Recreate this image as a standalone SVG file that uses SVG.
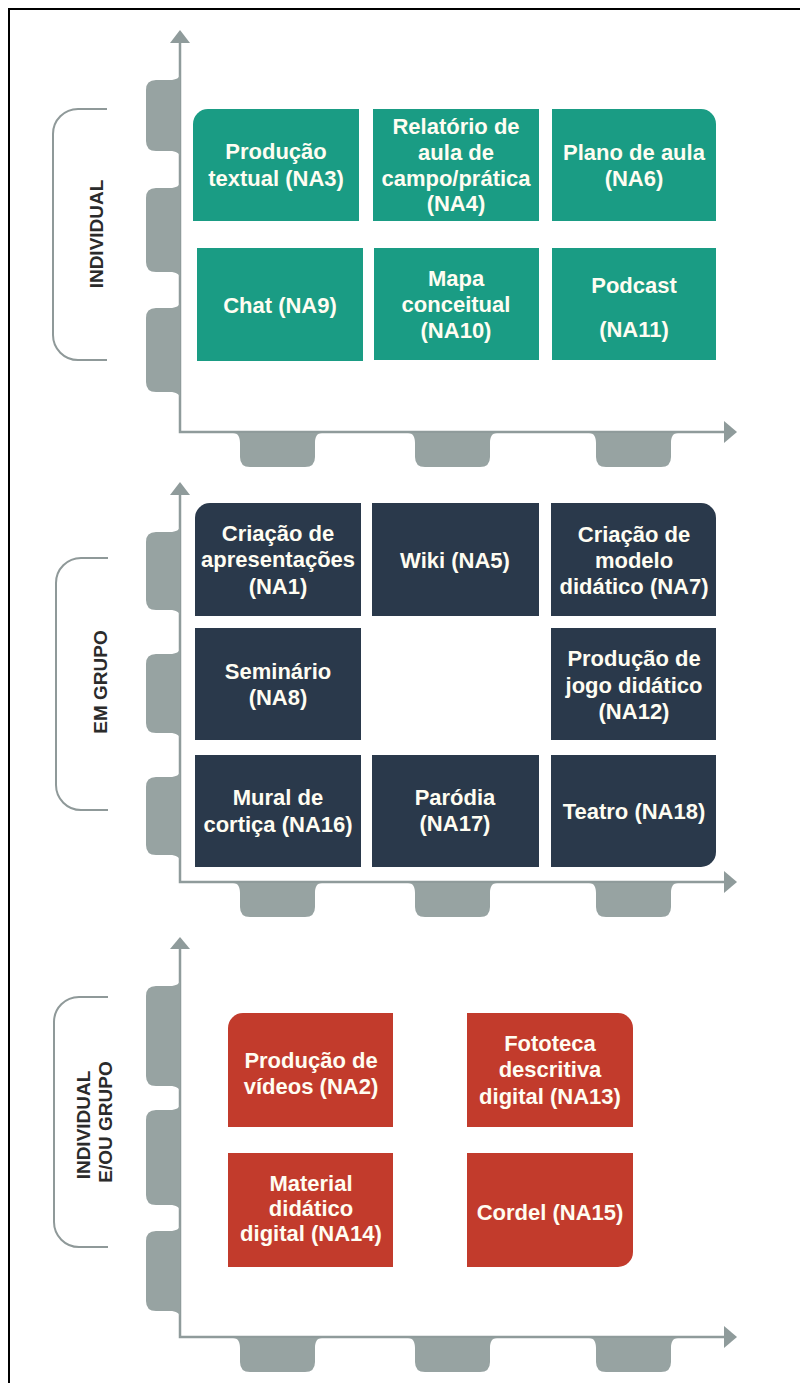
<svg xmlns="http://www.w3.org/2000/svg" xmlns:xlink="http://www.w3.org/1999/xlink" width="800" height="1383" viewBox="0 0 800 1383">
<style>
.frame{fill:none;stroke:#000;stroke-width:2}
.axis{fill:none;stroke:#8f9b9b;stroke-width:2.5}
.head{fill:#8f9b9b}
.tab{fill:#97a3a2}
.brace{fill:none;stroke:#8f9999;stroke-width:2}
.lab{font-family:"Liberation Sans",Arial,sans-serif;font-weight:bold;font-size:19px;fill:#2b2b2b;text-anchor:middle}
.t{font-family:"Liberation Sans",Arial,sans-serif;font-weight:bold;font-size:22px;fill:#fffdf2;text-anchor:middle}
.teal{fill:#1a9c84}
.navy{fill:#2a394b}
.red{fill:#c23b2c}
</style>
<defs>
<path id="btab" d="M0,0 C5,0 7,4 7,10 L7,24 Q7,34 17,34 L72,34 Q82,34 82,24 L82,10 C82,4 84,0 89,0 Z"/>
</defs>
<rect width="800" height="1383" fill="#fff"/>
<path class="frame" d="M9,1383 L9,9 L800,9"/>

<g id="connectors">
  <path class="axis" d="M180,42 L180,432 L726,432"/>
  <polygon class="head" points="180,30 190,43 170,43"/>
  <polygon class="head" points="737,432 724,421 724,443"/>
  <path class="axis" d="M180,494 L180,882 L726,882"/>
  <polygon class="head" points="180,482 190,495 170,495"/>
  <polygon class="head" points="737,882 724,871 724,893"/>
  <path class="axis" d="M180,948 L180,1337 L726,1337"/>
  <polygon class="head" points="180,937 190,949 170,949"/>
  <polygon class="head" points="737,1337 724,1326 724,1348"/>
</g>

<g id="tabs">
  <path class="tab" d="M180,73 C180,78 176,80 170,80 L156,80 Q146,80 146,90 L146,141 Q146,151 156,151 L170,151 C176,151 180,153 180,158 Z"/>
  <path class="tab" d="M180,181 C180,186 176,188 170,188 L156,188 Q146,188 146,198 L146,262 Q146,272 156,272 L170,272 C176,272 180,274 180,279 Z"/>
  <path class="tab" d="M180,301 C180,306 176,308 170,308 L156,308 Q146,308 146,318 L146,382 Q146,392 156,392 L170,392 C176,392 180,394 180,399 Z"/>
  <use href="#btab" xlink:href="#btab" class="tab" x="233" y="433"/>
  <use href="#btab" xlink:href="#btab" class="tab" x="408" y="433"/>
  <use href="#btab" xlink:href="#btab" class="tab" x="589" y="433"/>

  <path class="tab" d="M180,525 C180,530 176,532 170,532 L156,532 Q146,532 146,542 L146,600 Q146,610 156,610 L170,610 C176,610 180,612 180,617 Z"/>
  <path class="tab" d="M180,647 C180,652 176,654 170,654 L156,654 Q146,654 146,664 L146,723 Q146,733 156,733 L170,733 C176,733 180,735 180,740 Z"/>
  <path class="tab" d="M180,770 C180,775 176,777 170,777 L156,777 Q146,777 146,787 L146,845 Q146,855 156,855 L170,855 C176,855 180,857 180,862 Z"/>
  <use href="#btab" xlink:href="#btab" class="tab" x="233" y="883"/>
  <use href="#btab" xlink:href="#btab" class="tab" x="408" y="883"/>
  <use href="#btab" xlink:href="#btab" class="tab" x="589" y="883"/>

  <path class="tab" d="M180,979 C180,984 176,986 170,986 L156,986 Q146,986 146,996 L146,1076 Q146,1086 156,1086 L170,1086 C176,1086 180,1088 180,1093 Z"/>
  <path class="tab" d="M180,1103 C180,1108 176,1110 170,1110 L156,1110 Q146,1110 146,1120 L146,1195 Q146,1205 156,1205 L170,1205 C176,1205 180,1207 180,1212 Z"/>
  <path class="tab" d="M180,1224 C180,1229 176,1231 170,1231 L156,1231 Q146,1231 146,1241 L146,1301 Q146,1311 156,1311 L170,1311 C176,1311 180,1313 180,1318 Z"/>
  <use href="#btab" xlink:href="#btab" class="tab" x="233" y="1338"/>
  <use href="#btab" xlink:href="#btab" class="tab" x="408" y="1338"/>
  <use href="#btab" xlink:href="#btab" class="tab" x="589" y="1338"/>
</g>

<g id="label-individual">
  <path class="brace" d="M107,109 L78,109 A25,25 0 0 0 53,134 L53,335 A25,25 0 0 0 78,360 L107,360"/>
  <text class="lab" transform="translate(103,234) rotate(-90)">INDIVIDUAL</text>
</g>
<g id="label-emgrupo">
  <path class="brace" d="M108,558 L81,558 A25,25 0 0 0 56,583 L56,785 A25,25 0 0 0 81,810 L108,810"/>
  <text class="lab" transform="translate(107,682) rotate(-90)">EM GRUPO</text>
</g>
<g id="label-individual-grupo">
  <path class="brace" d="M108,997 L79,997 A25,25 0 0 0 54,1022 L54,1222 A25,25 0 0 0 79,1247 L108,1247"/>
  <text class="lab" transform="translate(90,1125) rotate(-90)">INDIVIDUAL</text>
  <text class="lab" transform="translate(112,1122) rotate(-90)">E/OU GRUPO</text>
</g>

<g id="NA3">
  <path class="teal" d="M208,109 L359,109 L359,221 L193,221 L193,124 A15,15 0 0 1 208,109 Z"/>
  <text class="t" x="276" y="159">Produção</text>
  <text class="t" x="276" y="186">textual (NA3)</text>
</g>
<g id="NA4">
  <rect class="teal" x="373" y="109" width="166" height="112"/>
  <text class="t" x="456" y="134">Relatório de</text>
  <text class="t" x="456" y="160">aula de</text>
  <text class="t" x="456" y="186">campo/prática</text>
  <text class="t" x="456" y="211">(NA4)</text>
</g>
<g id="NA6">
  <path class="teal" d="M552,109 L701,109 A15,15 0 0 1 716,124 L716,221 L552,221 Z"/>
  <text class="t" x="634" y="160">Plano de aula</text>
  <text class="t" x="634" y="186">(NA6)</text>
</g>
<g id="NA9">
  <rect class="teal" x="197" y="248" width="166" height="113"/>
  <text class="t" x="280" y="313">Chat (NA9)</text>
</g>
<g id="NA10">
  <rect class="teal" x="374" y="248" width="165" height="112"/>
  <text class="t" x="456" y="286">Mapa</text>
  <text class="t" x="456" y="312">conceitual</text>
  <text class="t" x="456" y="338">(NA10)</text>
</g>
<g id="NA11">
  <rect class="teal" x="552" y="248" width="164" height="112"/>
  <text class="t" x="634" y="293">Podcast</text>
  <text class="t" x="634" y="337">(NA11)</text>
</g>

<g id="NA1">
  <path class="navy" d="M210,503 L361,503 L361,616 L195,616 L195,518 A15,15 0 0 1 210,503 Z"/>
  <text class="t" x="278" y="541">Criação de</text>
  <text class="t" x="278" y="567">apresentações</text>
  <text class="t" x="278" y="594">(NA1)</text>
</g>
<g id="NA5">
  <rect class="navy" x="372" y="503" width="167" height="113"/>
  <text class="t" x="455" y="568">Wiki (NA5)</text>
</g>
<g id="NA7">
  <path class="navy" d="M551,503 L701,503 A15,15 0 0 1 716,518 L716,616 L551,616 Z"/>
  <text class="t" x="634" y="542">Criação de</text>
  <text class="t" x="634" y="568">modelo</text>
  <text class="t" x="634" y="594">didático (NA7)</text>
</g>
<g id="NA8">
  <rect class="navy" x="195" y="628" width="166" height="112"/>
  <text class="t" x="278" y="679">Seminário</text>
  <text class="t" x="278" y="705">(NA8)</text>
</g>
<g id="NA12">
  <rect class="navy" x="551" y="628" width="165" height="112"/>
  <text class="t" x="634" y="666">Produção de</text>
  <text class="t" x="634" y="693">jogo didático</text>
  <text class="t" x="634" y="719">(NA12)</text>
</g>
<g id="NA16">
  <rect class="navy" x="195" y="755" width="166" height="112"/>
  <text class="t" x="278" y="805">Mural de</text>
  <text class="t" x="278" y="832">cortiça (NA16)</text>
</g>
<g id="NA17">
  <rect class="navy" x="372" y="755" width="167" height="112"/>
  <text class="t" x="455" y="805">Paródia</text>
  <text class="t" x="455" y="831">(NA17)</text>
</g>
<g id="NA18">
  <path class="navy" d="M551,755 L716,755 L716,852 A15,15 0 0 1 701,867 L551,867 Z"/>
  <text class="t" x="634" y="819">Teatro (NA18)</text>
</g>

<g id="NA2">
  <path class="red" d="M243,1013 L393,1013 L393,1127 L228,1127 L228,1028 A15,15 0 0 1 243,1013 Z"/>
  <text class="t" x="311" y="1068">Produção de</text>
  <text class="t" x="311" y="1094">vídeos (NA2)</text>
</g>
<g id="NA13">
  <path class="red" d="M467,1013 L618,1013 A15,15 0 0 1 633,1028 L633,1127 L467,1127 Z"/>
  <text class="t" x="550" y="1051">Fototeca</text>
  <text class="t" x="550" y="1077">descritiva</text>
  <text class="t" x="550" y="1104">digital (NA13)</text>
</g>
<g id="NA14">
  <rect class="red" x="228" y="1153" width="165" height="114"/>
  <text class="t" x="311" y="1191">Material</text>
  <text class="t" x="311" y="1216">didático</text>
  <text class="t" x="311" y="1241">digital (NA14)</text>
</g>
<g id="NA15">
  <path class="red" d="M467,1153 L633,1153 L633,1252 A15,15 0 0 1 618,1267 L467,1267 Z"/>
  <text class="t" x="550" y="1220">Cordel (NA15)</text>
</g>
</svg>
